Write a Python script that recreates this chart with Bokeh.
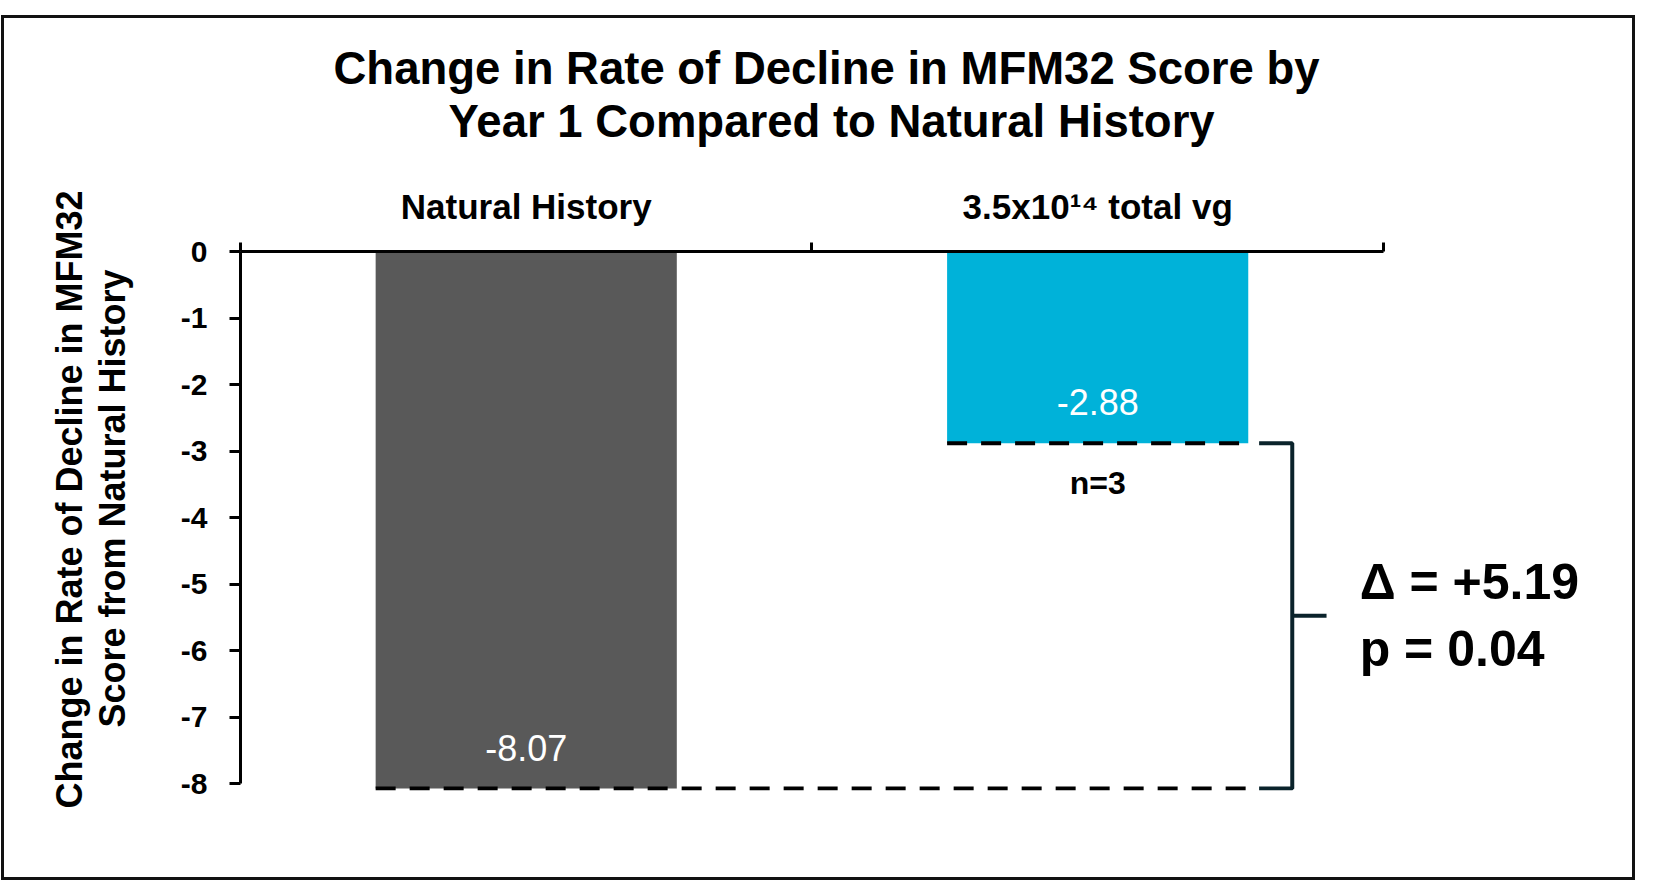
from bokeh.plotting import figure
from bokeh.models import Range1d, FixedTicker, Label, Title
from bokeh.core.properties import value
from bokeh.embed import file_html
from bokeh.resources import INLINE

# ---- data ----
categories = ["Natural History", "3.5x10\u00b9\u2074 total vg"]
values = [-8.07, -2.88]
value_labels = ["-8.07", "-2.88"]
n_labels = ["", "n=3"]
bar_colors = ["#595959", "#00B2D9"]
y_ticks = [0, -1, -2, -3, -4, -5, -6, -7, -8]
delta_text = "\u0394 = +5.19"
p_text = "p = 0.04"
title_lines = ["Change in Rate of Decline in MFM32 Score by",
               "Year 1 Compared to Natural History"]
y_label_lines = ["Change in Rate of Decline in MFM32",
                 "Score from Natural History"]

FONT = "Liberation Sans"
BAR_W = 0.527
CAT_PX = 569          # pixel width of one category slot
W, H = 1628, 859
ML, MT, MB = 236, 233, 93
xs = [i + 0.5 for i in range(len(categories))]
x_end = (W - ML) / CAT_PX

p = figure(width=W, height=H,
           x_range=Range1d(0, x_end), y_range=Range1d(-8.1, 0),
           x_axis_location="above", toolbar_location=None, output_backend="svg",
           min_border_left=ML, min_border_right=0, min_border_top=MT, min_border_bottom=MB)
p.styles = {"border": "3px solid #111", "box-sizing": "content-box",
            "margin-left": "1px", "margin-top": "15px"}
p.background_fill_color = "white"
p.border_fill_color = "white"
p.outline_line_color = None
p.xgrid.visible = False
p.ygrid.visible = False

# bars
p.vbar(x=xs, top=0, bottom=values, width=BAR_W, fill_color=bar_colors, line_color=None)

# value labels inside bars
p.text(x=xs, y=values, text=value_labels, y_offset=-41, text_align="center",
       text_baseline="alphabetic", text_color="white", text_font_size="36px",
       text_font=value(FONT))

# n label
p.text(x=xs, y=values, text=n_labels, y_offset=40, text_align="center",
       text_baseline="alphabetic", text_color="black", text_font_size="32px",
       text_font=value(FONT), text_font_style=value("bold"))

# dashed reference lines
nh, tr = values[0], values[1]
bar2_right = xs[1] + BAR_W / 2
foot_x0 = bar2_right + 0.019
br_x = bar2_right + 0.077
tick_x1 = bar2_right + 0.137
p.line(x=[xs[0] - BAR_W / 2, bar2_right + 0.01], y=[nh, nh], line_color="black",
       line_width=4, line_dash="20 14")
p.line(x=[xs[1] - BAR_W / 2, bar2_right], y=[tr, tr], line_color="black",
       line_width=4, line_dash="20 14")

# bracket
BR_COLOR = "#0A232B"
p.line(x=[foot_x0, br_x, br_x, foot_x0], y=[tr, tr, nh, nh], line_color=BR_COLOR, line_width=4)
mid = (tr + nh) / 2
p.line(x=[br_x, tick_x1], y=[mid, mid], line_color=BR_COLOR, line_width=4)

p.add_layout(Label(x=bar2_right + 0.195, y=mid, text=delta_text + "\n" + p_text,
                   text_align="left", text_baseline="middle", text_font=FONT,
                   text_font_size="50px", text_font_style="bold", text_color="black"))

# x axis (top) with boundary ticks
xa = p.xaxis[0]
xa.bounds = (0, len(categories))
xa.ticker = FixedTicker(ticks=xs, minor_ticks=list(range(len(categories) + 1)))
xa.major_label_overrides = {x: c for x, c in zip(xs, categories)}
xa.major_tick_out = 0
xa.major_tick_in = 0
xa.minor_tick_out = 9
xa.minor_tick_in = 0
xa.minor_tick_line_width = 3
xa.minor_tick_line_color = "black"
xa.axis_line_width = 3
xa.axis_line_color = "black"
xa.major_label_standoff = 17
xa.major_label_text_font = FONT
xa.major_label_text_font_size = "35px"
xa.major_label_text_font_style = "bold"
xa.major_label_text_color = "black"

# chart title: two centred lines, spacer keeps them clear of the category labels
p.add_layout(Title(text=" ", text_font_size="1px", standoff=34), "above")
p.add_layout(Title(text=title_lines[1], align="left", offset=208, standoff=0,
                   text_font=FONT, text_font_size="45.5px", text_font_style="bold",
                   text_color="black"), "above")
p.add_layout(Title(text=title_lines[0], align="left", offset=93, standoff=0,
                   text_font=FONT, text_font_size="45.5px", text_font_style="bold",
                   text_color="black"), "above")

# y axis
ya = p.yaxis[0]
ya.ticker = FixedTicker(ticks=y_ticks)
ya.major_label_overrides = {t: str(t) for t in y_ticks}
ya.bounds = (-8, 0)
ya.major_tick_out = 11
ya.major_tick_in = 0
ya.minor_tick_out = 0
ya.minor_tick_in = 0
ya.major_tick_line_width = 3
ya.major_tick_line_color = "black"
ya.axis_line_width = 3
ya.axis_line_color = "black"
ya.major_label_standoff = 22
ya.major_label_text_font = FONT
ya.major_label_text_font_size = "30px"
ya.major_label_text_font_style = "bold"
ya.major_label_text_color = "black"

# y axis title: two centred vertical lines
p.add_layout(Title(text=" ", text_font_size="1px", standoff=42), "left")
p.add_layout(Title(text=y_label_lines[1], align="left", offset=63, standoff=0,
                   text_font=FONT, text_font_size="36px", text_font_style="bold",
                   text_color="black"), "left")
p.add_layout(Title(text=y_label_lines[0], align="left", offset=-18, standoff=0,
                   text_font=FONT, text_font_size="36px", text_font_style="bold",
                   text_color="black"), "left")

open("out.html", "w").write(file_html(p, INLINE))
